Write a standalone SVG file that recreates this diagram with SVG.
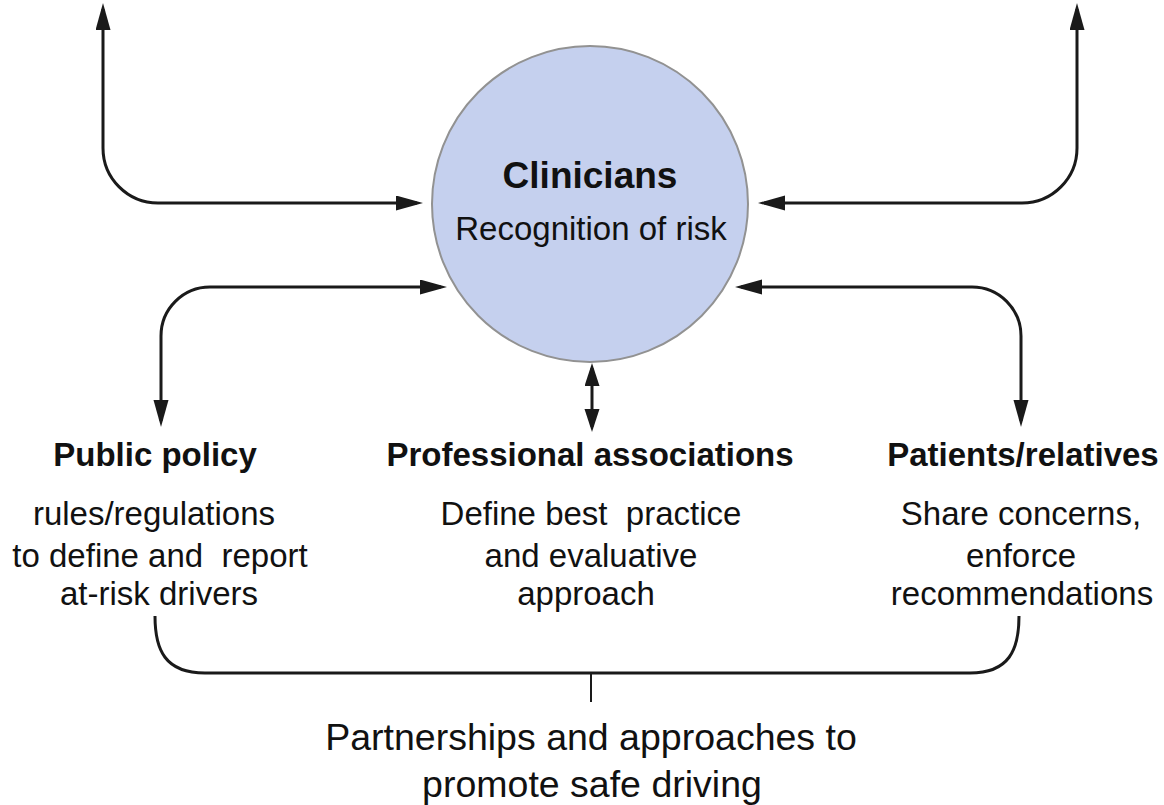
<svg xmlns="http://www.w3.org/2000/svg" width="1164" height="805" viewBox="0 0 1164 805">
<style>
  .t { font-family: "Liberation Sans", Arial, Helvetica, sans-serif; fill: #111; text-anchor: middle; }
  .b { font-weight: bold; font-size: 33px; }
  .r { font-size: 33px; }
  .ln { fill: none; stroke: #1a1a1a; stroke-width: 3; }
  .arr { marker-start: url(#ah); marker-end: url(#ah); }
</style>
<defs>
  <marker id="ah" markerUnits="userSpaceOnUse" markerWidth="28" markerHeight="16" refX="21" refY="7.5" orient="auto-start-reverse">
    <path d="M0,0 L27,7.5 L0,15 Z" fill="#1a1a1a"/>
  </marker>
  <marker id="ahs" markerUnits="userSpaceOnUse" markerWidth="24" markerHeight="16" refX="18" refY="7.5" orient="auto-start-reverse">
    <path d="M0,0 L23,7.5 L0,15 Z" fill="#1a1a1a"/>
  </marker>
</defs>
<rect width="1164" height="805" fill="#fff"/>

<g id="connectors">
  <path class="ln arr" d="M103,9 L103,148 A55,55 0 0 0 158,203 L417,203"/>
  <path class="ln arr" d="M1077,9 L1077,148 A55,55 0 0 1 1022,203 L764,203"/>
  <path class="ln arr" d="M441,287 L210,287 A49,49 0 0 0 161,336 L161,421"/>
  <path class="ln arr" d="M741,287 L972,287 A49,49 0 0 1 1021,336 L1021,421"/>
  <path class="ln" d="M592,368 L592,427" marker-start="url(#ahs)" marker-end="url(#ahs)"/>
  <path class="ln" d="M155,616 C155,650 165,673 205,673 L970,673 C1009,673 1019,650 1019,616"/>
  <path class="ln" style="stroke-width:2" d="M591,673 L591,702"/>
</g>

<g id="node-clinicians">
  <circle cx="590" cy="204" r="158" fill="#c5d0ee" stroke="#929292" stroke-width="2"/>
  <text class="t" x="590" y="188" style="font-weight:bold;font-size:37px">Clinicians</text>
  <text class="t r" x="591" y="240">Recognition of risk</text>
</g>

<g id="node-public-policy">
  <text class="t b" x="155" y="466">Public policy</text>
  <text class="t r" x="154" y="525">rules/regulations</text>
  <text class="t r" x="160" y="567" xml:space="preserve">to define and  report</text>
  <text class="t r" x="159" y="605">at-risk drivers</text>
</g>

<g id="node-professional-associations">
  <text class="t b" x="590" y="466">Professional associations</text>
  <text class="t r" x="591" y="525" xml:space="preserve">Define best  practice</text>
  <text class="t r" x="591" y="567">and evaluative</text>
  <text class="t r" x="586" y="605">approach</text>
</g>

<g id="node-patients-relatives">
  <text class="t b" x="1023" y="466">Patients/relatives</text>
  <text class="t r" x="1021" y="525">Share concerns,</text>
  <text class="t r" x="1021" y="567">enforce</text>
  <text class="t r" x="1022" y="605">recommendations</text>
</g>

<g id="node-partnerships">
  <text class="t" x="591" y="750" style="font-size:37.5px">Partnerships and approaches to</text>
  <text class="t" x="592" y="797" style="font-size:37.5px">promote safe driving</text>
</g>
</svg>
